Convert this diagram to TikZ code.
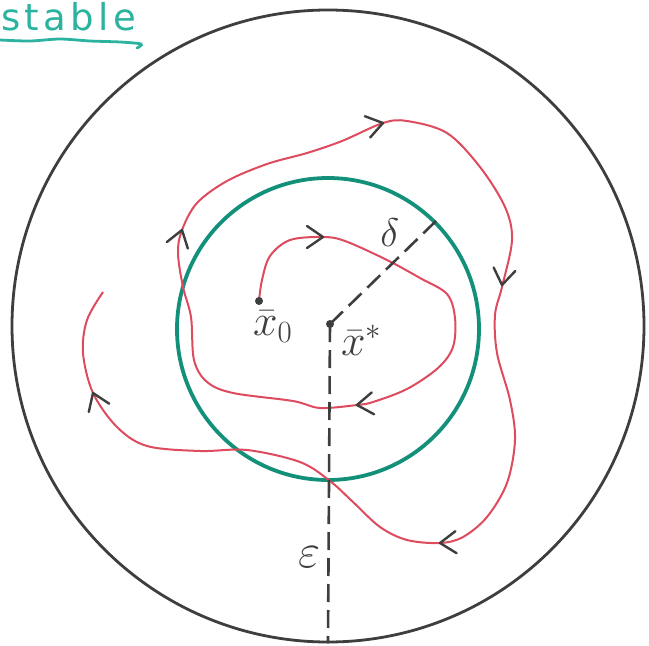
\RequirePackage{fix-cm}
\documentclass[tikz,border=0pt]{standalone}
\usepackage{fontspec}
\newfontfamily\handfont[LetterSpace=12]{DejaVu Sans}
\usetikzlibrary{arrows.meta,positioning}
\definecolor{chalkgray}{HTML}{3E3E3E}
\definecolor{tealring}{HTML}{12907A}
\definecolor{tealink}{HTML}{2BB3A0}
\definecolor{orbitred}{HTML}{DE4A5E}

\begin{document}
\begin{tikzpicture}[x=1pt, y=-1pt,
    ring/.style={draw, circle, inner sep=0pt},
    dot/.style={circle, fill=chalkgray, inner sep=0pt, minimum size=8pt},
    radiusline/.style={chalkgray, line width=2.6pt, dash pattern=on 18pt off 8pt},
    orbit/.style={orbitred, line width=2pt},
    mathlabel/.style={text=chalkgray, inner sep=1pt, font=\fontsize{44}{44}\selectfont},
    chevron/.pic={\draw[chalkgray, line width=2.4pt, line cap=round, line join=round]
      (-16pt,-11pt) -- (0,0) -- (-16pt,11pt);}
  ]
    \useasboundingbox (0,0) rectangle (649,646);

    % title
    \node[anchor=base west, inner sep=0pt, text=tealink, font=\handfont\fontsize{37}{37}\selectfont]
      (title) at (1,30) {stable};
    \draw[tealink, line width=2.8pt, line cap=round] plot[smooth] coordinates
      {(0,40) (30,41) (60,39) (90,41) (120,42) (141,44) (137,48)};

    % neighbourhoods
    \node[ring, chalkgray, line width=2.8pt, minimum size=632pt] (outer) at (328,326) {};
    \node[ring, tealring, line width=3.8pt, minimum size=302pt] (nbhd) at (328,329) {};

    % trajectory
    \draw[orbit] plot[smooth, tension=0.55] coordinates {
      (259,301) (262,280) (270,256) (290,240) (323,237) (345,241) (387,260)
      (420,278) (447,294) (455,318) (453,347) (438,368) (407,389) (373,402)
      (357,405) (320,408) (293,401) (233,393) (207,382) (194,360) (191,317)
      (183,287) (178,253) (182,230) (197,203) (227,181) (267,164) (307,153)
      (342,141) (383,123) (407,121) (447,133) (480,167) (505,207) (512,240)
      (502,287) (495,315) (497,353) (510,400) (515,440) (507,483) (487,517)
      (463,537) (440,543) (407,540) (380,527) (353,502) (330,481) (300,462)
      (247,450) (200,451) (147,446) (117,427) (93,393) (83,353) (87,320)
      (103,292)};
    \pic[rotate=0] at (323,237) {chevron};
    \pic[rotate=14] at (383,123) {chevron};
    \pic[rotate=261] at (502,285) {chevron};
    \pic[rotate=183] at (440,543) {chevron};
    \pic[rotate=186] at (357,405) {chevron};
    \pic[rotate=73] at (182,230) {chevron};
    \pic[rotate=112] at (93,393) {chevron};

    % points
    \node[dot] (xzero) at (259,301) {};
    \node[dot] (xstar) at (330,324) {};
    \node[mathlabel, below right=6pt and -10pt of xzero] (xzerolabel) {$\bar{x}_0$};
    \node[mathlabel, below right=-3pt and 7pt of xstar] (xstarlabel) {$\bar{x}^{*}$};

    % radii
    \draw[radiusline] (xstar.center) -- (nbhd.45)
      node[mathlabel, pos=0.7, above left=4pt, font=\fontsize{40}{40}\selectfont] (deltalabel) {$\delta$};
    \draw[radiusline] (xstar.center) -- (outer.south)
      node[mathlabel, pos=0.73, left=6pt, font=\fontsize{48}{48}\selectfont] (epslabel) {$\varepsilon$};
  \end{tikzpicture}
\end{document}
